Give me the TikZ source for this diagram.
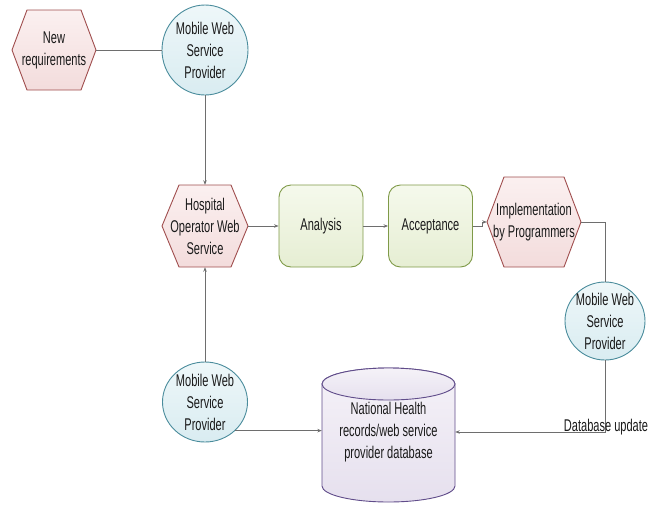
\documentclass[tikz,border=0pt]{standalone}
\usepackage{fontspec}
\setmainfont{Liberation Sans}[FakeStretch=0.65]
\usetikzlibrary{arrows.meta,shapes.geometric}
\definecolor{textc}{HTML}{1A1A1A}
\definecolor{linec}{HTML}{6E6E6E}
\definecolor{hexline}{HTML}{A04E4E}
\definecolor{hexT}{HTML}{FBF0F0}
\definecolor{hexB}{HTML}{F3DCDC}
\definecolor{circline}{HTML}{4A8C9C}
\definecolor{circT}{HTML}{EEF7F9}
\definecolor{circB}{HTML}{D9ECF1}
\definecolor{taskline}{HTML}{7F9A48}
\definecolor{taskT}{HTML}{F5F9EC}
\definecolor{taskB}{HTML}{E6EED3}
\definecolor{dbline}{HTML}{604C8A}
\definecolor{dbT}{HTML}{F5F2F8}
\definecolor{dbB}{HTML}{E6E0EE}
\newcommand{\myhex}[7]{%
  \draw[hexshape] (#2-#4,#3) -- (#2-#4+#6,#3-#5) -- (#2+#4-#6,#3-#5) -- (#2+#4,#3)
     -- (#2+#4-#6,#3+#5) -- (#2-#4+#6,#3+#5) -- cycle;
  \node[anchorbox, minimum width=2*#4 pt, minimum height=2*#5 pt,
        label={[txt]center:#7}] (#1) at (#2,#3) {};}
\begin{document}
\begin{tikzpicture}[x=1pt,y=-1pt,
  txt/.style={font=\fontsize{17}{22}\selectfont, text=textc, align=center, inner sep=0pt},
  conn/.style={draw=linec, line width=0.9pt},
  arr/.style={conn, -{Stealth[length=4.5pt,width=3.5pt]}},
  hexshape/.style={draw=hexline, line width=0.9pt, top color=hexT, bottom color=hexB},
  anchorbox/.style={rectangle, inner sep=0pt, draw=none},
  circ/.style={ellipse, draw=circline, line width=0.9pt, top color=circT, bottom color=circB, inner sep=0pt},
  task/.style={rectangle, rounded corners=12pt, draw=taskline, line width=0.9pt, top color=taskT, bottom color=taskB, minimum width=84pt, minimum height=82pt, txt},
  dbshape/.style={draw=dbline, line width=0.9pt, top color=dbT, bottom color=dbB}
]
\useasboundingbox (0,0) rectangle (654,504);

% hexagons
\myhex{newreq}{54}{50}{42}{40}{15}{New\\requirements}
\myhex{hosp}{205}{226}{43}{41}{17}{Hospital\\Operator Web\\Service}
\myhex{impl}{534}{222}{47}{45}{17}{Implementation\\by Programmers}

% circles
\node[circ, minimum width=86pt, minimum height=90pt,
      label={[txt]center:Mobile Web\\Service\\Provider}] (mtop) at (205,50) {};
\node[circ, minimum width=80pt, minimum height=78pt,
      label={[txt]center:Mobile Web\\Service\\Provider}] (mright) at (605,321) {};
\node[circ, minimum width=85pt, minimum height=80pt,
      label={[txt]center:Mobile Web\\Service\\Provider}] (mbot) at (205,402) {};

% tasks
\node[task] (analysis) at (321,226) {Analysis};
\node[task] (accept) at (430.5,226) {Acceptance};

% database cylinder
\path[dbshape] (322,384) -- (322,486) arc[start angle=180, end angle=360, x radius=66.5pt, y radius=16pt]
   -- (455,384) arc[start angle=0, end angle=180, x radius=66.5pt, y radius=16pt] -- cycle;
\draw[dbshape] (388.5,384) ellipse [x radius=66.5pt, y radius=16pt];
\node[anchorbox, minimum width=133pt, minimum height=128pt] (db) at (388.5,432) {};
\node[txt] (dbtext) at (388.5,432) {National Health\\records/web service\\provider database};

% connectors
\draw[conn] (newreq.east) -- (mtop.west);
\draw[arr] (mtop.south) -- (hosp.north);
\draw[arr] (mbot.north) -- (hosp.south);
\draw[arr] (hosp.east) -- (analysis.west);
\draw[arr] (analysis.east) -- (accept.west);
\coordinate (stepx) at (482,226);
\draw[arr] (accept.east) -- (stepx) |- (impl.west);
\draw[conn] (impl.east) -| (mright.north);
\coordinate (dbturn) at (605,432);
\draw[arr] (mright.south) -- (dbturn) -- (dbturn -| db.east);
\draw[arr] (mbot.south east) -- (mbot.south east -| db.west);
\node[txt, fill=none] (dblabel) at (606,427) {Database update};
\end{tikzpicture}
\end{document}
